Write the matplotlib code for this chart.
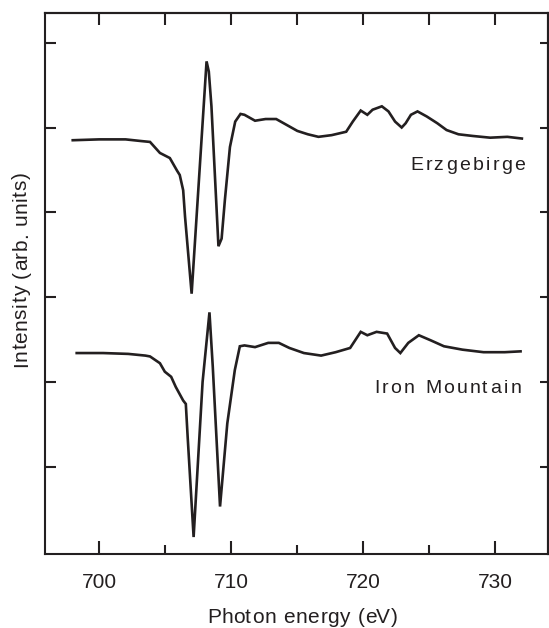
import numpy as np
import matplotlib
matplotlib.use('Agg')
import matplotlib.pyplot as plt
from matplotlib.font_manager import FontProperties, findfont, get_font
from matplotlib.transforms import IdentityTransform

FONT = 'Liberation Sans'
INK = '#231f20'
plt.rcParams['font.family'] = FONT

# XMCD spectra at the Fe L-edge, offset vertically
energy_erz = [698.0, 700.0, 702.0, 703.2, 703.85, 704.6, 704.85, 705.35, 705.9, 706.1,
              706.36, 706.5, 707.0, 708.13, 708.3, 708.5, 709.03, 709.27, 709.52, 709.9,
              710.3, 710.7, 711.0, 711.8, 712.6, 713.4, 714.2, 715.0, 715.8, 716.6,
              717.6, 718.7, 719.2, 719.8, 720.3, 720.7, 721.4, 721.9, 722.4, 722.9,
              723.2, 723.6, 724.1, 724.8, 725.6, 726.3, 727.2, 728.3, 729.6, 730.9, 732.0]
signal_erz = [4.85, 4.86, 4.86, 4.84, 4.83, 4.70, 4.68, 4.64, 4.49, 4.44,
              4.26, 3.95, 3.04, 5.78, 5.66, 5.25, 3.60, 3.69, 4.15, 4.77,
              5.07, 5.16, 5.15, 5.08, 5.10, 5.10, 5.03, 4.96, 4.92, 4.89,
              4.91, 4.95, 5.07, 5.20, 5.15, 5.21, 5.25, 5.19, 5.07, 5.00,
              5.05, 5.15, 5.19, 5.13, 5.05, 4.97, 4.92, 4.90, 4.88, 4.89, 4.87]

energy_iron = [698.3, 700.3, 702.2, 703.5, 703.85, 704.6, 704.97, 705.45, 705.8, 706.36,
               706.56, 706.7, 707.15, 707.83, 708.35, 708.6, 709.15, 709.7, 710.27, 710.65,
               711.0, 711.8, 712.8, 713.6, 714.4, 715.5, 716.8, 717.9, 719.0, 719.8,
               720.3, 721.0, 721.8, 722.4, 722.8, 723.4, 724.2, 725.1, 726.1, 727.5,
               729.1, 730.7, 731.9]
signal_iron = [2.34, 2.34, 2.33, 2.31, 2.30, 2.22, 2.12, 2.06, 1.94, 1.78,
               1.74, 1.35, 0.17, 2.00, 2.82, 2.18, 0.53, 1.51, 2.14, 2.42,
               2.43, 2.41, 2.46, 2.46, 2.40, 2.34, 2.31, 2.35, 2.40, 2.59,
               2.55, 2.59, 2.57, 2.40, 2.34, 2.46, 2.55, 2.49, 2.42, 2.38,
               2.35, 2.35, 2.36]

sample_names = ['Erzgebirge', 'Iron Mountain']
name_pos = [(732.2, 4.50), (731.9, 1.87)]

x_major = [700, 710, 720, 730]
x_minor = [705, 715, 725]
y_ticks = [1, 2, 3, 4, 5, 6]


def spaced_text(fig, x, y, s, size, track, ha='left', rotation=0):
    """Draw s at display point (x, y) with extra pixels between letters."""
    font = get_font(findfont(FontProperties(family=FONT)))
    font.set_size(size, fig.dpi)
    glyphs = [font.load_char(ord(c)) for c in s]
    adv = [g.linearHoriAdvance / 65536 for g in glyphs]
    # Agg puts the ink edge at the anchor, so shift each glyph by its bearing
    bear = [g.horiBearingX / 64 for g in glyphs]
    total = sum(adv) + track * (len(s) - 1)
    pos = {'left': 0.0, 'center': -total / 2, 'right': -total}[ha]
    ca, sa = np.cos(np.radians(rotation)), np.sin(np.radians(rotation))
    for c, a, b in zip(s, adv, bear):
        if c != ' ':
            p = pos + b
            fig.text(x + p * ca, y + p * sa, c, transform=IdentityTransform(),
                     fontsize=size, rotation=rotation, rotation_mode='anchor',
                     ha='left', va='baseline', color=INK)
        pos += a + track


W, H = 549, 628
fig = plt.figure(figsize=(W / 100, H / 100), dpi=100)
ax = fig.add_axes([45 / W, (H - 554) / H, (548.3 - 45) / W, (554 - 13.3) / H])

ax.plot(energy_erz, signal_erz, color=INK, lw=1.9, solid_joinstyle='miter')
ax.plot(energy_iron, signal_iron, color=INK, lw=1.9, solid_joinstyle='miter')

ax.set_xlim(695.9, 734.0)
ax.set_ylim(-0.03, 6.347)

for sp in ax.spines.values():
    sp.set_linewidth(1.5)
    sp.set_color(INK)

ax.set_xticks(x_major)
ax.set_xticks(x_minor, minor=True)
ax.set_yticks(y_ticks)
ax.set_yticklabels([])
ax.tick_params(axis='x', which='major', direction='in', length=9.5, width=1.5,
               pad=13.5, labelsize=15, colors=INK)
ax.tick_params(axis='x', which='minor', direction='in', length=6.5, width=1.5, colors=INK)
ax.tick_params(axis='y', which='major', direction='in', length=8, width=1.5, colors=INK)

top = ax.secondary_xaxis('top')
top.set_xticks(x_major + x_minor)
top.set_xticklabels([])
top.tick_params(direction='in', length=8.5, width=1.5, colors=INK)
top.spines['top'].set_linewidth(1.5)

right = ax.secondary_yaxis('right')
right.set_yticks(y_ticks)
right.set_yticklabels([])
right.tick_params(direction='in', length=6, width=1.5, colors=INK)
right.spines['right'].set_linewidth(1.5)

for name, (ex, ey) in zip(sample_names, name_pos):
    px, py = ax.transData.transform((ex, ey))
    spaced_text(fig, px, py, name, 14, 2.4, ha='right')

spaced_text(fig, 301.5, H - 623, 'Photon energy (eV)', 15, 0.7, ha='center')
spaced_text(fig, 26.7, H - 270.5, 'Intensity (arb. units)', 15, 0.6, ha='center', rotation=90)

fig.savefig('out.png', dpi=100)
